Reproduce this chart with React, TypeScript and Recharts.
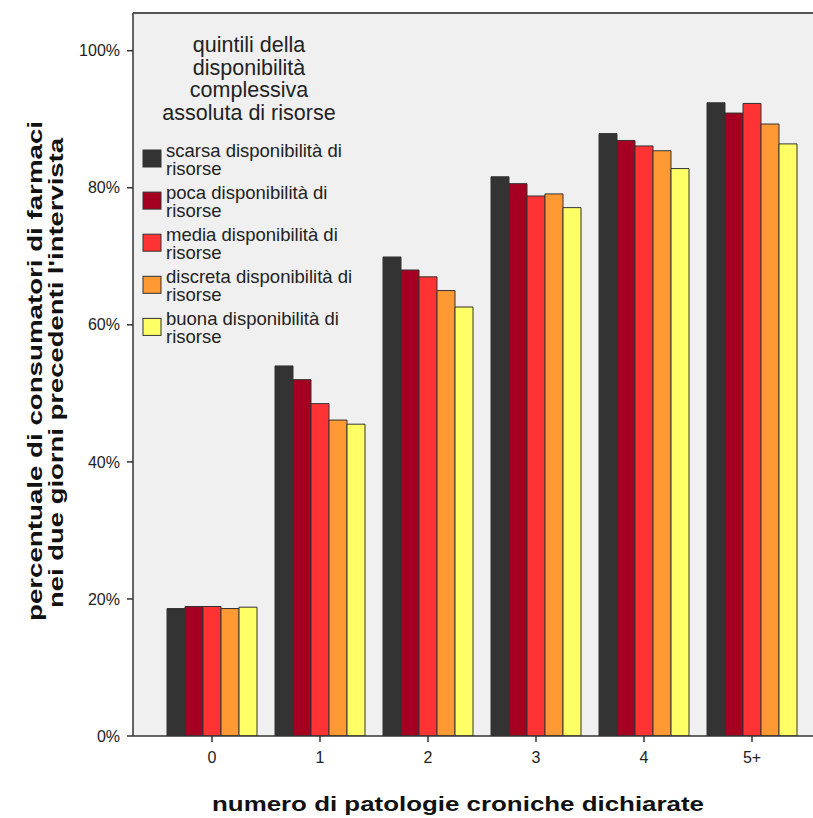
import React from 'react';
import { BarChart, Bar, XAxis, YAxis, CartesianGrid, Legend, ReferenceLine } from 'recharts';

const categories = ['0', '1', '2', '3', '4', '5+'];
const seriesKeys = ['scarsa', 'poca', 'media', 'discreta', 'buona'];
const seriesNames = [
  'scarsa disponibilità di risorse',
  'poca disponibilità di risorse',
  'media disponibilità di risorse',
  'discreta disponibilità di risorse',
  'buona disponibilità di risorse',
];
const seriesColors = ['#333333', '#a50021', '#ff3333', '#ff9933', '#ffff66'];
const scarsa = [18.6, 54.0, 69.9, 81.6, 87.9, 92.4];
const poca = [18.9, 52.0, 68.0, 80.6, 86.9, 90.9];
const media = [18.9, 48.5, 67.0, 78.8, 86.1, 92.3];
const discreta = [18.6, 46.1, 65.0, 79.1, 85.4, 89.3];
const buona = [18.8, 45.5, 62.6, 77.1, 82.8, 86.4];
const yTicks = [0, 20, 40, 60, 80, 100];
const legendTitle = ['quintili della', 'disponibilità', 'complessiva', 'assoluta di risorse'];
const xTitle = 'numero di patologie croniche dichiarate';
const yTitle = ["percentuale di consumatori di farmaci", "nei due giorni precedenti l'intervista"];

const seriesValues = [scarsa, poca, media, discreta, buona];
const data = categories.map((c, i) => {
  const row: Record<string, string | number> = { cat: c };
  seriesKeys.forEach((k, s) => {
    row[k] = seriesValues[s][i];
  });
  return row;
});

const FONT = '"Liberation Sans", Arial, sans-serif';
const Y_MAX = 105.5;

const LegendContent = () => (
  <svg width={360} height={360} style={{ overflow: 'visible' }}>
    {legendTitle.map((t, i) => (
      <text key={t} x={249} y={52 + i * 22.7} textAnchor="middle" fontFamily={FONT} fontSize={21.5} fill="#222">
        {t}
      </text>
    ))}
    {seriesNames.map((n, i) => {
      const cut = n.lastIndexOf(' ');
      return (
        <g key={n}>
          <rect x={143} y={150 + i * 42.1} width={18} height={17} fill={seriesColors[i]} stroke="#333" strokeWidth={1} />
          <text x={166} y={157 + i * 42.1} fontFamily={FONT} fontSize={18.5} fill="#222">{n.slice(0, cut)}</text>
          <text x={166} y={175 + i * 42.1} fontFamily={FONT} fontSize={18.5} fill="#222">{n.slice(cut + 1)}</text>
        </g>
      );
    })}
  </svg>
);

const renderYTitle = () => (
  <g>
    <text transform="translate(42,371) rotate(-90)" textAnchor="middle" fontFamily={FONT} fontWeight="bold" fontSize={21} fill="#111" textLength={500} lengthAdjust="spacingAndGlyphs">
      {yTitle[0]}
    </text>
    <text transform="translate(63,373) rotate(-90)" textAnchor="middle" fontFamily={FONT} fontWeight="bold" fontSize={21} fill="#111" textLength={470} lengthAdjust="spacingAndGlyphs">
      {yTitle[1]}
    </text>
  </g>
);

const renderXTitle = () => (
  <text x={458} y={811} textAnchor="middle" fontFamily={FONT} fontWeight="bold" fontSize={21} fill="#111" textLength={492} lengthAdjust="spacingAndGlyphs">
    {xTitle}
  </text>
);

export default function App() {
  return (
    <div style={{ position: 'absolute', left: 0, top: 0, width: 813, height: 818, overflow: 'hidden', background: '#fff' }}>
      <BarChart
        width={831}
        height={818}
        data={data}
        margin={{ top: 13, right: 0, bottom: 52, left: 0 }}
        barCategoryGap={9}
        barGap={0}
      >
        <CartesianGrid horizontal={false} vertical={false} fill="#f0f0f0" stroke="none" />
        <XAxis
          dataKey="cat"
          height={30}
          padding={{ left: 25, right: 25 }}
          tickLine={{ stroke: '#333', strokeWidth: 1.5 }}
          axisLine={{ stroke: '#333', strokeWidth: 1.5 }}
          tickSize={6}
          tickMargin={10}
          tick={{ fontFamily: FONT, fontSize: 16, fill: '#222' }}
          label={renderXTitle}
        />
        <YAxis
          width={133}
          domain={[0, Y_MAX]}
          ticks={yTicks}
          allowDataOverflow
          tickFormatter={(v: number) => `${v}%`}
          tickLine={{ stroke: '#333', strokeWidth: 1.5 }}
          axisLine={{ stroke: '#333', strokeWidth: 1.5 }}
          tickSize={6}
          tickMargin={7}
          tick={{ fontFamily: FONT, fontSize: 16, fill: '#222' }}
          label={renderYTitle}
        />
        <ReferenceLine y={Y_MAX} stroke="#555" strokeWidth={2} ifOverflow="visible" />
        <Legend
          layout="horizontal"
          verticalAlign="middle"
          align="center"
          content={() => <LegendContent />}
          wrapperStyle={{ position: 'absolute', left: 0, top: 0, width: 360, height: 360, pointerEvents: 'none' }}
        />
        {seriesKeys.map((k, i) => (
          <Bar
            key={k}
            dataKey={k}
            name={seriesNames[i]}
            fill={seriesColors[i]}
            stroke="#333"
            strokeWidth={1}
            isAnimationActive={false}
          />
        ))}
      </BarChart>
    </div>
  );
}
